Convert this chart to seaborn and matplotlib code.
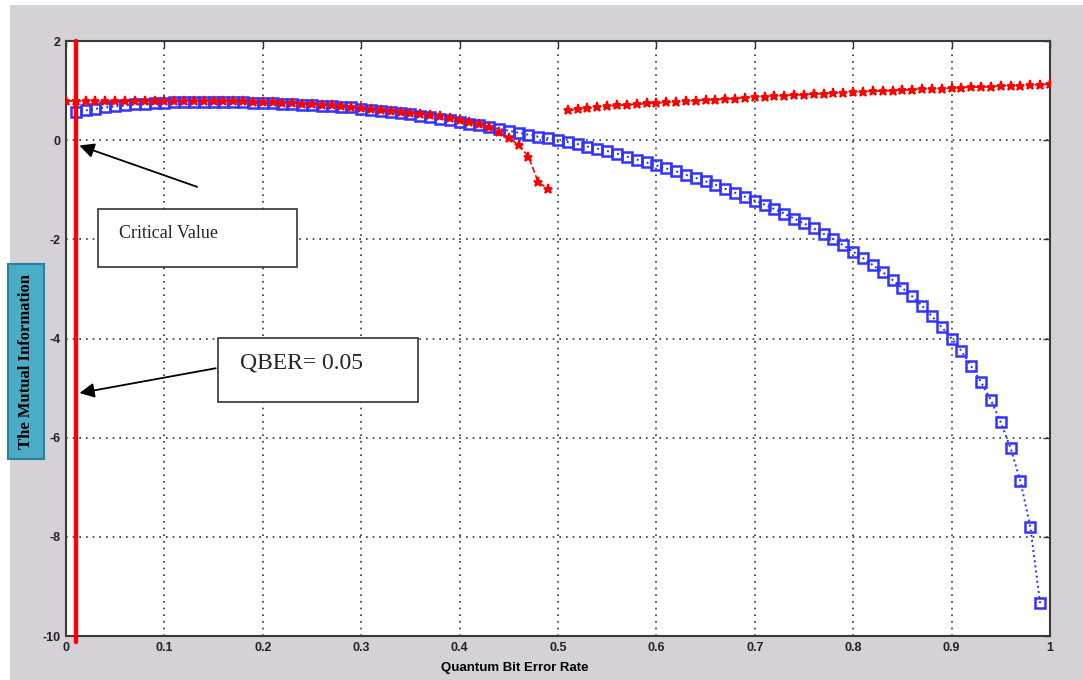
import numpy as np
import pandas as pd
import matplotlib
matplotlib.use('Agg')
import matplotlib.pyplot as plt
from matplotlib.patches import Rectangle
import seaborn as sns

# data
qber_blue = [round(0.01 * i, 2) for i in range(1, 100)]
mi_blue = [0.56, 0.60, 0.63, 0.66, 0.68, 0.70, 0.72, 0.73, 0.74, 0.75,
           0.76, 0.77, 0.77, 0.77, 0.77, 0.77, 0.76, 0.76, 0.75, 0.74,
           0.74, 0.73, 0.72, 0.71, 0.70, 0.69, 0.68, 0.67, 0.66, 0.63,
           0.61, 0.59, 0.57, 0.54, 0.52, 0.49, 0.46, 0.43, 0.40, 0.36,
           0.33, 0.30, 0.26, 0.23, 0.19, 0.15, 0.11, 0.07, 0.04, 0.00,
           -0.04, -0.08, -0.13, -0.17, -0.22, -0.27, -0.33, -0.39, -0.45, -0.51,
           -0.57, -0.63, -0.70, -0.76, -0.83, -0.90, -0.98, -1.06, -1.14, -1.22,
           -1.30, -1.39, -1.48, -1.58, -1.68, -1.78, -1.89, -2.00, -2.12, -2.25,
           -2.38, -2.52, -2.66, -2.82, -2.98, -3.15, -3.34, -3.55, -3.77, -4.00,
           -4.25, -4.56, -4.88, -5.24, -5.69, -6.21, -6.88, -7.80, -9.34]

qber_red1 = [round(0.01 * i, 2) for i in range(0, 50)]
mi_red1 = [0.79, 0.79, 0.79, 0.79, 0.79, 0.79, 0.79, 0.79, 0.79, 0.79,
           0.79, 0.79, 0.79, 0.79, 0.79, 0.79, 0.79, 0.78, 0.78, 0.77,
           0.77, 0.76, 0.75, 0.74, 0.73, 0.72, 0.71, 0.70, 0.68, 0.67,
           0.65, 0.63, 0.61, 0.59, 0.57, 0.55, 0.53, 0.51, 0.48, 0.44,
           0.40, 0.37, 0.32, 0.26, 0.16, 0.05, -0.10, -0.33, -0.85, -0.98]

qber_red2 = [round(0.01 * i, 2) for i in range(51, 101)]
mi_red2 = [0.60, 0.62, 0.64, 0.66, 0.68, 0.70, 0.71, 0.72, 0.74, 0.75,
           0.76, 0.77, 0.79, 0.80, 0.81, 0.82, 0.83, 0.84, 0.86, 0.87,
           0.88, 0.89, 0.90, 0.91, 0.92, 0.93, 0.94, 0.95, 0.96, 0.97,
           0.98, 0.99, 0.99, 1.00, 1.01, 1.02, 1.03, 1.03, 1.04, 1.05,
           1.06, 1.07, 1.07, 1.08, 1.09, 1.10, 1.10, 1.11, 1.12, 1.13]

critical_qber = 0.01
x_ticks = [0, 0.1, 0.2, 0.3, 0.4, 0.5, 0.6, 0.7, 0.8, 0.9, 1]
x_labels = ['0', '0.1', '0.2', '0.3', '0.4', '0.5', '0.6', '0.7', '0.8', '0.9', '1']
y_ticks = [-10, -8, -6, -4, -2, 0, 2]

sns.set_style('white')
plt.rcParams['font.family'] = ['Liberation Sans', 'DejaVu Sans']
plt.rcParams['axes.unicode_minus'] = False

fig = plt.figure(figsize=(10.83, 6.8), dpi=100, facecolor='white')
# grey window panel behind the plot
fig.patches.append(Rectangle((0.009, 0), 0.991, 0.993, transform=fig.transFigure,
                             facecolor='#d4d2d6', edgecolor='none', zorder=-10))
ax = fig.add_axes([0.0609, 0.0647, 0.9086, 0.875])
ax.set_facecolor('white')

sns.lineplot(x=qber_blue, y=mi_blue, ax=ax, color='#2a2aff', linestyle=':', linewidth=1.4,
             marker='s', markersize=6.5, markerfacecolor='none', markeredgecolor='#3333ff',
             markeredgewidth=1.8, zorder=3)
for xs, ys in [(qber_red1, mi_red1), (qber_red2, mi_red2)]:
    sns.lineplot(x=xs, y=ys, ax=ax, color='red', linestyle='--', linewidth=1.2,
                 marker='*', markersize=6.5, markeredgewidth=1.3, markeredgecolor='red',
                 zorder=4)

# critical QBER line
ax.plot([critical_qber, critical_qber], [2, -10.12], color='red', linewidth=3.2,
        clip_on=False, zorder=5)

ax.set_xlim(0, 1)
ax.set_ylim(-10, 2)
ax.set_xticks(x_ticks)
ax.set_xticklabels(x_labels)
ax.set_yticks(y_ticks)
ax.grid(True, linestyle=(0, (1, 3)), color='#333333', linewidth=1.2)
ax.tick_params(direction='in', length=5, width=1, top=True, right=True,
               labelsize=9, labelcolor='#222222', colors='#333333', pad=4)
for lab in ax.get_xticklabels() + ax.get_yticklabels():
    lab.set_fontweight('bold')
for sp in ax.spines.values():
    sp.set_color('#3a3a3a')
    sp.set_linewidth(1.5)
ax.set_xlabel('')
ax.set_ylabel('')

# annotation boxes
ax.add_patch(Rectangle((0.0325, -2.55), 0.2025, 1.17, facecolor='white',
                       edgecolor='#333333', linewidth=1.2, zorder=6))
ax.text(0.054, -1.885, 'Critical Value', family='Liberation Serif', fontsize=13,
        va='center', ha='left', zorder=7)
ax.annotate('', xy=(0.011, -0.09), xytext=(0.136, -0.96),
            arrowprops=dict(arrowstyle='-|>', color='black', lw=1.3, mutation_scale=22),
            zorder=7)

ax.add_patch(Rectangle((0.155, -5.29), 0.203, 1.31, facecolor='white',
                       edgecolor='#333333', linewidth=1.2, zorder=6))
ax.text(0.177, -4.49, 'QBER= 0.05', family='Liberation Serif', fontsize=17,
        va='center', ha='left', zorder=7)
ax.annotate('', xy=(0.011, -5.11), xytext=(0.155, -4.59),
            arrowprops=dict(arrowstyle='-|>', color='black', lw=1.3, mutation_scale=22),
            zorder=7)

# axis titles
fig.text(0.4755, 0.018, 'Quantum Bit Error Rate', fontsize=9.5, fontweight='bold',
         ha='center', va='center', color='black')
fig.text(0.024, 0.468, 'The Mutual Information', rotation=90, family='Liberation Serif',
         fontsize=12, fontweight='bold', ha='center', va='center', color='black',
         bbox=dict(boxstyle='square,pad=0.6', facecolor='#4bacc6', edgecolor='#2d8198',
                   linewidth=1.5))

fig.savefig('out.png', dpi=100, facecolor=fig.get_facecolor())
